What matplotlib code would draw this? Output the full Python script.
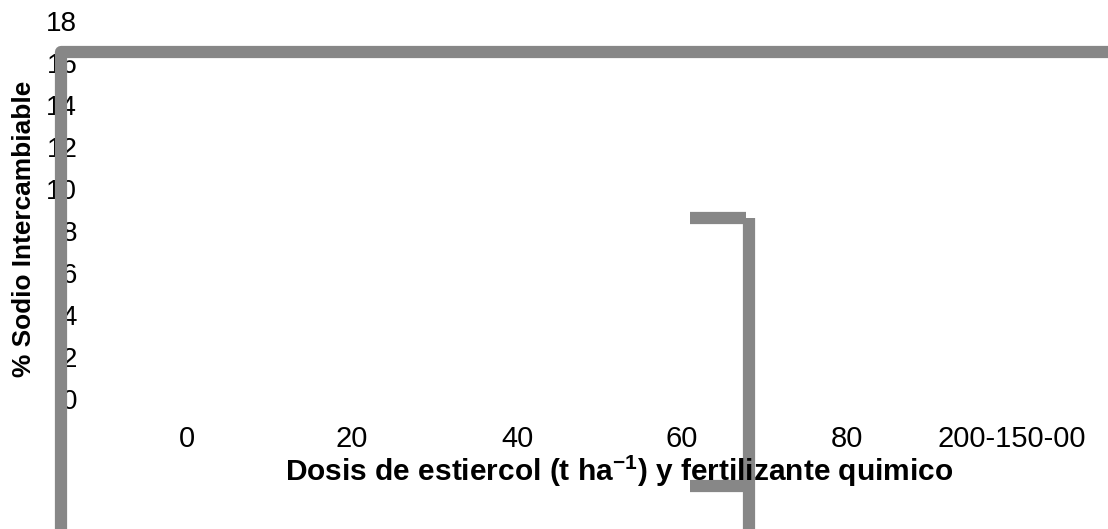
import numpy as np
import matplotlib.pyplot as plt

plt.rcParams['font.family'] = ['Liberation Sans', 'DejaVu Sans']

## data
x_labels = ['0', '20', '40', '60', '80', '200-150-00']
y_ticks = [0, 2, 4, 6, 8, 10, 12, 14, 16, 18]

# the thick grey strokes (broken frame and the odd bracket), in axis units
frame_x = -0.764
frame_top = 16.67
bracket_x = 3.406
bracket_left = 3.048
bracket_top = 8.76
bracket_low = -4.0

gray = '#878787'
lw = 8.8

fig = plt.figure(figsize=(11.08, 5.29), dpi=100)
ax = fig.add_axes([0, 0, 1, 1])
ax.set_xlim(-187 / 165, (1108 - 187) / 165)
ax.set_ylim(-127 / 21, (529 - 127) / 21)
ax.axis('off')

# tick labels
for v in y_ticks:
    ax.text(-0.665, v, str(v), ha='right', va='center', fontsize=20, zorder=3)
for i, lab in enumerate(x_labels):
    ax.text(i, -1.76, lab, ha='center', va='center', fontsize=21, zorder=3)

# axis titles
ax.text(0.559, 0.11, 'Dosis de estiercol (t ha$^{\\mathregular{-1}}$) y fertilizante quimico',
        transform=ax.transAxes, ha='center', va='center', fontsize=21.5, fontweight='bold',
        zorder=3)
ax.text(0.0217, 0.567, '% Sodio Intercambiable', transform=ax.transAxes, rotation=90,
        ha='center', va='center', fontsize=18.9, fontweight='bold', zorder=3)

# grey frame lines (drawn over the tick labels, as in the original)
ylo = ax.get_ylim()[0] - 0.5
xhi = ax.get_xlim()[1] + 0.5
ax.plot([frame_x, frame_x, xhi], [ylo, frame_top, frame_top], color=gray, lw=lw,
        solid_joinstyle='round', solid_capstyle='butt', clip_on=False, zorder=4)

# bracket (behind the text)
ax.plot([bracket_x, bracket_x], [bracket_top, ylo], color=gray, lw=lw,
        solid_capstyle='butt', clip_on=False, zorder=1)
ax.plot([bracket_left, bracket_x - 0.02], [bracket_top, bracket_top], color=gray, lw=lw,
        solid_capstyle='butt', zorder=1)
ax.plot([bracket_left, bracket_x - 0.02], [bracket_low, bracket_low], color=gray, lw=lw,
        solid_capstyle='butt', zorder=1)

fig.savefig('out.png', dpi=100)
